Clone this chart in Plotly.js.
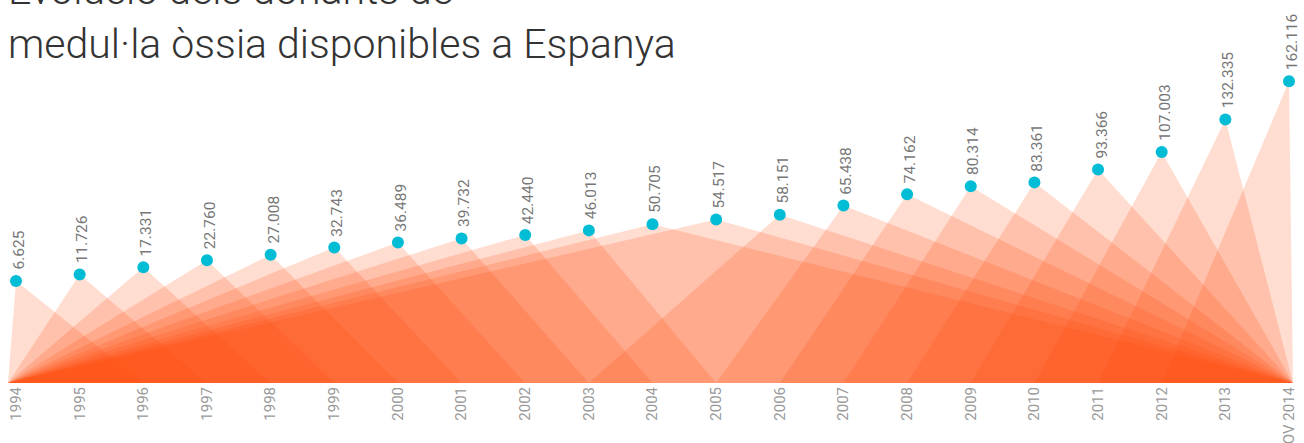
<!DOCTYPE html>
<html>
<head>
<meta charset="utf-8">
<script src="https://cdn.plot.ly/plotly-3.0.1.min.js"></script>
<style>html,body{margin:0;padding:0;background:#fff;}#chart{width:1304px;height:443px;}</style>
</head>
<body>
<div id="chart"></div>
<script>
// Data
const years = ['1994','1995','1996','1997','1998','1999','2000','2001','2002','2003','2004',
               '2005','2006','2007','2008','2009','2010','2011','2012','2013','NOV 2014'];
const donors = [6625, 11726, 17331, 22760, 27008, 32743, 36489, 39732, 42440, 46013, 50705,
                54517, 58151, 65438, 74162, 80314, 83361, 93366, 107003, 132335, 162116];
const titleText = 'Evolució dels donants de<br>medul·la òssia disponibles a Espanya';

// Axis extents (layout)
const X_LEFT = -0.126, X_RIGHT = 20.063;
const Y_MIN = -72760, Y_MAX = 178600;

function fmt(v){ return String(v).replace(/\B(?=(\d{3})+(?!\d))/g, '.'); }

// base span of each triangle (by category index)
function span(i){
  if (i <= 9) return [X_LEFT, i + 2];
  if (i <= 11) return [X_LEFT, X_RIGHT];
  if (i === 12) return [9, X_RIGHT];
  return [i - 2, X_RIGHT];
}

const idx = years.map((_, i) => i);
const traces = [];
donors.forEach((v, i) => {
  const [a, b] = span(i);
  traces.push({
    type: 'scatter', mode: 'lines', x: [a, i, b, a], y: [Y_MIN, v, Y_MIN, Y_MIN],
    fill: 'toself', fillcolor: 'rgba(255,72,8,0.19)', line: {width: 0},
    hoverinfo: 'skip', showlegend: false
  });
});
traces.push({
  type: 'scatter', mode: 'markers', x: idx, y: donors,
  marker: {color: '#00bcd4', size: 12}, cliponaxis: false,
  hoverinfo: 'skip', showlegend: false
});

const annotations = donors.map((v, i) => ({
  x: i, y: v, xref: 'x', yref: 'y', text: fmt(v), textangle: -90,
  showarrow: false, xanchor: 'center', yanchor: 'bottom', yshift: 9, xshift: 3,
  font: {family: 'Roboto, "Liberation Sans", sans-serif', size: 15.5, color: '#777'}
}));

const layout = {
  width: 1304, height: 443,
  margin: {l: 8, r: 11, t: 60, b: 60, autoexpand: false},
  paper_bgcolor: '#fff', plot_bgcolor: '#fff',
  title: {
    text: titleText, x: 0, xanchor: 'left', xref: 'paper',
    y: 0.99, yref: 'container', yanchor: 'bottom',
    font: {family: 'Roboto, "Liberation Sans", sans-serif', size: 41, color: '#333', weight: 300}
  },
  xaxis: {
    range: [X_LEFT, X_RIGHT], tickvals: idx, ticktext: years, tickangle: -90,
    showgrid: false, zeroline: false, showline: false, ticks: '',
    tickfont: {family: 'Roboto, "Liberation Sans", sans-serif', size: 15, color: '#999'},
    fixedrange: true
  },
  yaxis: {
    range: [Y_MIN, Y_MAX], visible: false, showgrid: false, zeroline: false, fixedrange: true
  },
  annotations: annotations,
  hovermode: false
};

Plotly.newPlot('chart', traces, layout, {displayModeBar: false, staticPlot: true});
</script>
</body>
</html>
